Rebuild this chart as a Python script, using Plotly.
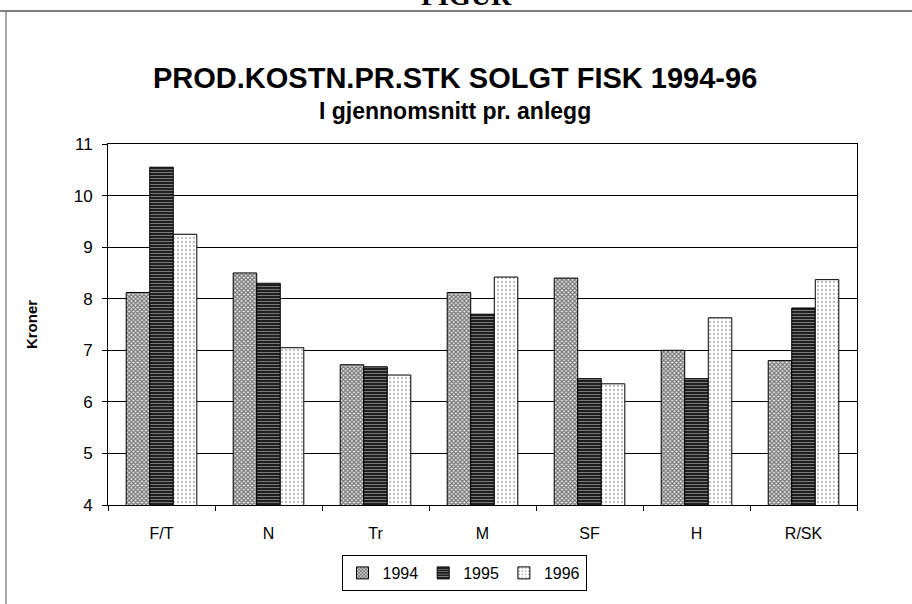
import plotly.graph_objects as go

# Data
regions = ['F/T', 'N', 'Tr', 'M', 'SF', 'H', 'R/SK']
kost_1994 = [8.12, 8.50, 6.72, 8.12, 8.40, 7.00, 6.80]
kost_1995 = [10.55, 8.30, 6.68, 7.70, 6.45, 6.45, 7.82]
kost_1996 = [9.25, 7.05, 6.52, 8.42, 6.35, 7.63, 8.37]
y_ticks = [4, 5, 6, 7, 8, 9, 10, 11]

fig = go.Figure()

fig.add_trace(go.Bar(
    x=regions, y=kost_1994, name='1994',
    marker=dict(color='white', line=dict(color='black', width=1),
                pattern=dict(shape='x', fgcolor='black', bgcolor='#e6e6e6',
                             size=3, solidity=0.6))))

fig.add_trace(go.Bar(
    x=regions, y=kost_1995, name='1995',
    marker=dict(color='#1a1a1a', line=dict(color='black', width=1),
                pattern=dict(shape='-', fgcolor='#e0e0e0', bgcolor='#151515',
                             size=3, solidity=0.4))))

fig.add_trace(go.Bar(
    x=regions, y=kost_1996, name='1996',
    marker=dict(color='white', line=dict(color='black', width=1),
                pattern=dict(shape='.', fgcolor='#777777', bgcolor='white',
                             size=4, solidity=0.25))))

L, R, T, B = 108, 55, 144, 99
W, H = 912, 604
pw, ph = W - L - R, H - T - B


def px(xp):
    return (xp - L) / pw


def py(yp):
    return (H - B - yp) / ph


fig.update_layout(
    width=W, height=H,
    margin=dict(l=L, r=R, t=T, b=B),
    paper_bgcolor='white', plot_bgcolor='white',
    font=dict(family='Liberation Sans, Arial, sans-serif', color='black', size=16),
    barmode='group', bargap=0.34, bargroupgap=0,
    showlegend=True,
    legend=dict(orientation='h', x=px(464), xanchor='center', y=py(573), yanchor='middle',
                bordercolor='black', borderwidth=1, font=dict(size=16),
                itemwidth=30, traceorder='normal'),
)

fig.update_yaxes(range=[4, 11], tickvals=y_ticks, showgrid=True, gridcolor='black',
                 gridwidth=1, showline=True, linecolor='black', linewidth=1, mirror=True,
                 ticks='outside', ticklen=5, tickcolor='black', zeroline=False,
                 tickfont=dict(size=17), ticklabelstandoff=6,
                 title=dict(text='<b>Kroner</b>', font=dict(size=15), standoff=32))

fig.update_xaxes(showline=True, linecolor='black', linewidth=1, mirror=True,
                 ticks='outside', ticklen=5, tickcolor='black', tickson='boundaries',
                 tickfont=dict(size=16), ticklabelstandoff=14, showgrid=False)

# titles
fig.add_annotation(text='<b>PROD.KOSTN.PR.STK SOLGT FISK 1994-96</b>', xref='paper', yref='paper',
                   x=px(455), y=py(78), xanchor='center', yanchor='middle', showarrow=False,
                   font=dict(size=29))
fig.add_annotation(text='<b>I gjennomsnitt pr. anlegg</b>', xref='paper', yref='paper',
                   x=px(455), y=py(111), xanchor='center', yanchor='middle', showarrow=False,
                   font=dict(size=23))
fig.add_annotation(text='<b>FIGUR</b>', xref='paper', yref='paper',
                   x=px(466), y=py(-4), xanchor='center', yanchor='middle', showarrow=False,
                   font=dict(size=28, family='Liberation Serif, Times New Roman, serif'))

# outer frame (top and left edges visible)
fig.add_shape(type='line', xref='paper', yref='paper', x0=px(0), x1=px(912), y0=py(11), y1=py(11),
              line=dict(color='black', width=1))
fig.add_shape(type='line', xref='paper', yref='paper', x0=px(6), x1=px(6), y0=py(11), y1=py(604),
              line=dict(color='#555555', width=1))

# drop the default page margin so the figure sits at the window's top-left corner
fig.write_html('out.html', config={'displayModeBar': False},
               post_script="document.body.style.margin='0';")
